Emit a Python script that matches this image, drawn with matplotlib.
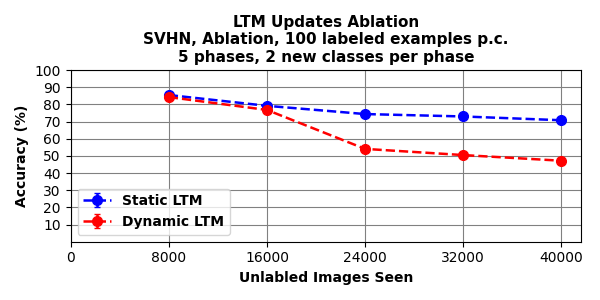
import numpy as np
import matplotlib.pyplot as plt

images_seen = [8000, 16000, 24000, 32000, 40000]
static_acc = [85.5, 79.2, 74.4, 73.0, 70.8]
dynamic_acc = [84.3, 76.8, 54.1, 50.5, 47.2]
static_err = [0.8, 0.8, 0.8, 0.8, 0.8]
dynamic_err = [0.8, 0.8, 0.8, 0.8, 0.8]

fig, ax = plt.subplots(figsize=(6, 3), dpi=100)
ax.errorbar(images_seen, static_acc, yerr=static_err, fmt='o--', c='b',
            capsize=2, markersize=7, linewidth=1.8, label='Static LTM')
ax.errorbar(images_seen, dynamic_acc, yerr=dynamic_err, fmt='o--', c='r',
            capsize=2, markersize=7, linewidth=1.8, label='Dynamic LTM')

ax.set_xlim(0, 41600)
ax.set_ylim(0, 100)
ax.set_xticks([0] + images_seen)
ax.set_yticks(np.arange(10, 101, 10))
ax.grid(color='gray')
ax.set_xlabel('Unlabled Images Seen', fontweight='bold')
ax.set_ylabel('Accuracy (%)', fontweight='bold')
ax.set_title('LTM Updates Ablation\nSVHN, Ablation, 100 labeled examples p.c.\n5 phases, 2 new classes per phase',
             fontweight='bold', fontsize=11)
ax.legend(loc='lower left', prop={'weight': 'bold'})
plt.tight_layout()
plt.savefig('out.png')
